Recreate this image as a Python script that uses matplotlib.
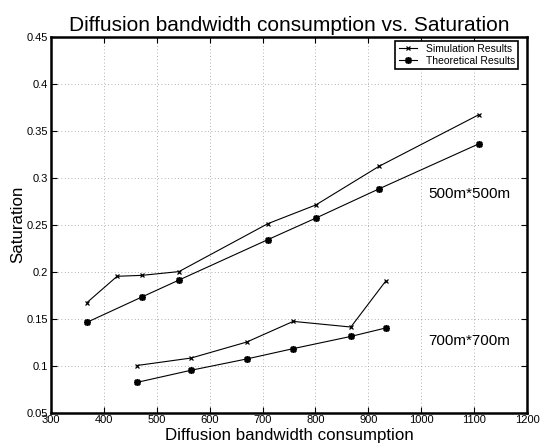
import matplotlib
matplotlib.use('Agg')
import matplotlib.pyplot as plt

# datos
x_500 = [368, 425, 472, 542, 710, 801, 920, 1109]
sim_500 = [0.167, 0.195, 0.196, 0.200, 0.251, 0.271, 0.312, 0.367]
teo_500 = [0.146, None, 0.173, 0.191, 0.234, 0.257, 0.288, 0.336]

x_700 = [462, 565, 670, 758, 867, 933]
sim_700 = [0.100, 0.108, 0.125, 0.147, 0.141, 0.190]
teo_700 = [0.082, 0.095, 0.107, 0.118, 0.131, 0.140]

plt.rcParams['font.family'] = ['Liberation Sans', 'DejaVu Sans']

fig = plt.figure(figsize=(5.4, 4.44), dpi=100)
ax = fig.add_axes([0.0944, 0.0709, 0.8815, 0.8464])

ast = (8, 2, 0)

# 500m*500m
ax.plot(x_500, sim_500, color='black', lw=0.8, marker='x', ms=3.5, mew=0.9,
        label='Simulation Results')
xt = [x for x, y in zip(x_500, teo_500) if y is not None]
yt = [y for y in teo_500 if y is not None]
ax.plot(xt, yt, color='black', lw=0.8, marker=ast, ms=5, mew=1.2,
        label='Theoretical Results')

# 700m*700m
ax.plot(x_700, sim_700, color='black', lw=0.8, marker='x', ms=3.5, mew=0.9)
ax.plot(x_700, teo_700, color='black', lw=0.8, marker=ast, ms=5, mew=1.2)

ax.text(1013, 0.283, '500m*500m', fontsize=11, va='center')
ax.text(1013, 0.1266, '700m*700m', fontsize=11, va='center')

ax.set_xlim(300, 1200)
ax.set_ylim(0.05, 0.45)
ax.set_xticks(range(300, 1201, 100))
ax.set_yticks([0.05, 0.1, 0.15, 0.2, 0.25, 0.3, 0.35, 0.4, 0.45])
ax.set_yticklabels(['0.05', '0.1', '0.15', '0.2', '0.25', '0.3', '0.35', '0.4', '0.45'])
ax.tick_params(direction='in', labelsize=8, top=True, right=True, length=4, pad=2)
ax.grid(True, linestyle=(0, (1, 3)), color='#999999', lw=0.6)
for s in ax.spines.values():
    s.set_linewidth(1.8)

ax.set_xlabel('Diffusion bandwidth consumption', fontsize=12.2, labelpad=2)
ax.set_ylabel('Saturation', fontsize=12.2, labelpad=1)
ax.set_title('Diffusion bandwidth consumption vs. Saturation', fontsize=15, pad=4)

leg = ax.legend(loc='upper right', fontsize=7.5, fancybox=False, framealpha=1,
                edgecolor='black', borderpad=0.3, labelspacing=0.15,
                handlelength=1.8, borderaxespad=0.4,
                bbox_to_anchor=(0.99, 1.0))
leg.get_frame().set_linewidth(1.2)

fig.savefig('out.png', dpi=100)
